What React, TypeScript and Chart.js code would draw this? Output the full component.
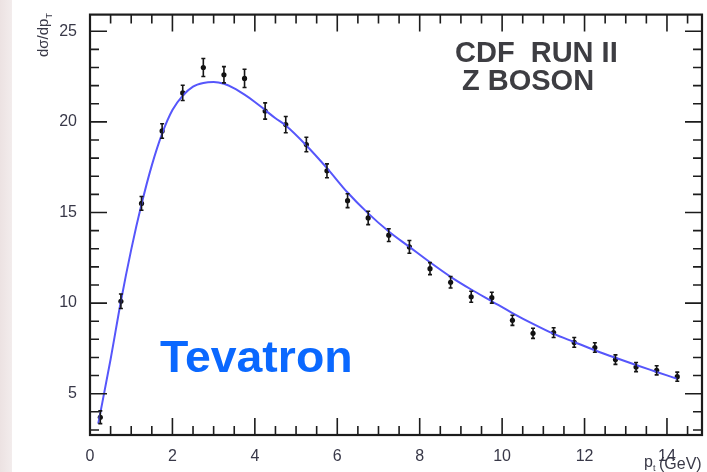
import React, { useEffect, useRef } from "react";
import { Chart, registerables } from "chart.js";

Chart.register(...registerables);

// ---- data ----
const binCenters = [
  0.25, 0.75, 1.25, 1.75, 2.25, 2.75, 3.25, 3.75, 4.25, 4.75, 5.25, 5.75, 6.25, 6.75, 7.25,
  7.75, 8.25, 8.75, 9.25, 9.75, 10.25, 10.75, 11.25, 11.75, 12.25, 12.75, 13.25, 13.75, 14.25,
];
const crossSection = [
  3.7, 10.1, 15.5, 19.5, 21.6, 23.0, 22.6, 22.4, 20.6, 19.85, 18.75, 17.3, 15.65, 14.7, 13.75,
  13.1, 11.9, 11.15, 10.35, 10.3, 9.05, 8.33, 8.37, 7.83, 7.55, 6.88, 6.47, 6.29, 5.94,
];
const crossSectionErr = [
  0.35, 0.4, 0.38, 0.4, 0.42, 0.5, 0.45, 0.5, 0.45, 0.45, 0.4, 0.38, 0.38, 0.37, 0.35,
  0.35, 0.33, 0.32, 0.3, 0.3, 0.28, 0.28, 0.27, 0.27, 0.26, 0.26, 0.25, 0.25, 0.25,
];
const fitX = [
  0.2, 0.5, 0.75, 1.0, 1.25, 1.5, 1.75, 2.0, 2.25, 2.5, 2.75, 3.0, 3.25, 3.5, 3.75, 4.0, 4.25,
  4.5, 4.75, 5.25, 5.75, 6.25, 6.75, 7.25, 7.75, 8.25, 8.75, 9.25, 9.75, 10.25, 10.75, 11.25,
  11.75, 12.25, 12.75, 13.25, 13.75, 14.25,
];
const fitY = [
  3.35, 6.9, 10.1, 12.95, 15.45, 17.6, 19.35, 20.65, 21.45, 21.95, 22.15, 22.2, 22.1, 21.85,
  21.5, 21.1, 20.65, 20.2, 19.8, 18.7, 17.45, 16.1, 14.95, 13.95, 13.1, 12.25, 11.45, 10.75,
  10.1, 9.45, 8.85, 8.3, 7.85, 7.4, 6.98, 6.58, 6.2, 5.82,
];

const xMajorTicks = [0, 2, 4, 6, 8, 10, 12, 14];
const xTickLabels = ["0", "2", "4", "6", "8", "10", "12", "14"];
const xMinorTicks = [
  0.5, 1, 1.5, 2.5, 3, 3.5, 4.5, 5, 5.5, 6.5, 7, 7.5, 8.5, 9, 9.5, 10.5, 11, 11.5, 12.5, 13,
  13.5, 14.5,
];
const yMajorTicks = [5, 10, 15, 20, 25];
const yTickLabels = ["5", "10", "15", "20", "25"];
const yMinorTicks = [3, 4, 6, 7, 8, 9, 11, 12, 13, 14, 16, 17, 18, 19, 21, 22, 23, 24];

const xRange = [0, 14.85];
const yRange = [2.72, 25.92];

const FONT = '"Liberation Sans", Arial, Helvetica, sans-serif';

const backgroundPlugin = {
  id: "bgPlugin",
  beforeDraw(chart: any) {
    const { ctx, width, height } = chart;
    ctx.save();
    ctx.fillStyle = "#ffffff";
    ctx.fillRect(0, 0, width, height);
    const g = ctx.createLinearGradient(0, 0, 13, 0);
    g.addColorStop(0, "#ece2e2");
    g.addColorStop(1, "#f3eded");
    ctx.fillStyle = g;
    ctx.fillRect(0, 0, 12, height);
    ctx.restore();
  },
};

const errorBarPlugin = {
  id: "errorBars",
  afterDatasetsDraw(chart: any) {
    const { ctx } = chart;
    const xs = chart.scales.x;
    const ys = chart.scales.y;
    ctx.save();
    ctx.strokeStyle = "#151515";
    ctx.lineWidth = 1.6;
    binCenters.forEach((xv, i) => {
      const px = xs.getPixelForValue(xv);
      const pTop = ys.getPixelForValue(crossSection[i] + crossSectionErr[i]);
      const pBot = ys.getPixelForValue(crossSection[i] - crossSectionErr[i]);
      ctx.beginPath();
      ctx.moveTo(px, pTop);
      ctx.lineTo(px, pBot);
      ctx.moveTo(px - 2, pTop);
      ctx.lineTo(px + 2, pTop);
      ctx.moveTo(px - 2, pBot);
      ctx.lineTo(px + 2, pBot);
      ctx.stroke();
    });
    ctx.restore();
  },
};

const framePlugin = {
  id: "frame",
  afterDraw(chart: any) {
    const { ctx, chartArea } = chart;
    const { left, right, top, bottom } = chartArea;
    const xs = chart.scales.x;
    const ys = chart.scales.y;
    const MAJ = 17;
    const MIN = 9;
    ctx.save();
    ctx.strokeStyle = "#1c1c1c";
    ctx.lineWidth = 1.6;
    ctx.beginPath();
    const drawX = (v: number, len: number) => {
      const px = xs.getPixelForValue(v);
      ctx.moveTo(px, bottom);
      ctx.lineTo(px, bottom - len);
      ctx.moveTo(px, top);
      ctx.lineTo(px, top + len);
    };
    const drawY = (v: number, len: number) => {
      const py = ys.getPixelForValue(v);
      ctx.moveTo(left, py);
      ctx.lineTo(left + len, py);
      ctx.moveTo(right, py);
      ctx.lineTo(right - len, py);
    };
    xMajorTicks.forEach((v) => drawX(v, MAJ));
    xMinorTicks.forEach((v) => drawX(v, MIN));
    yMajorTicks.forEach((v) => drawY(v, MAJ));
    yMinorTicks.forEach((v) => drawY(v, MIN));
    ctx.stroke();
    ctx.lineWidth = 2.2;
    ctx.strokeRect(left, top, right - left, bottom - top);
    ctx.restore();
  },
};

const textPlugin = {
  id: "texts",
  afterDraw(chart: any) {
    const { ctx } = chart;
    ctx.save();
    // CDF label
    ctx.fillStyle = "#3d3d42";
    ctx.font = `bold 29px ${FONT}`;
    ctx.textBaseline = "alphabetic";
    ctx.textAlign = "left";
    ctx.fillText("CDF  RUN II", 455, 62);
    ctx.fillText("Z BOSON", 462, 90);

    // Tevatron
    ctx.save();
    ctx.fillStyle = "#0a68ff";
    ctx.font = `bold 44px ${FONT}`;
    ctx.translate(160, 372);
    ctx.scale(1.055, 1);
    ctx.fillText("Tevatron", 0, 0);
    ctx.restore();

    // y axis title
    ctx.fillStyle = "#3a3a48";
    ctx.save();
    ctx.translate(48, 57);
    ctx.rotate(-Math.PI / 2);
    ctx.font = `15px ${FONT}`;
    ctx.fillText("dσ/dp", 0, 0);
    const w = ctx.measureText("dσ/dp").width;
    ctx.font = `9px ${FONT}`;
    ctx.fillText("T", w, 4);
    ctx.restore();

    // x axis title
    ctx.font = `16px ${FONT}`;
    ctx.fillText("p", 644, 467);
    ctx.font = `9px ${FONT}`;
    ctx.fillText("t", 653, 471);
    ctx.font = `16px ${FONT}`;
    ctx.fillText("(GeV)", 659, 469);
    ctx.restore();
  },
};

export default function App() {
  const canvasRef = useRef<HTMLCanvasElement | null>(null);

  useEffect(() => {
    document.body.style.margin = "0";
    const canvas = canvasRef.current;
    if (!canvas) return;
    const points = binCenters.map((x, i) => ({ x, y: crossSection[i] }));
    const curve = fitX.map((x, i) => ({ x, y: fitY[i] }));

    const chart = new Chart(canvas, {
      type: "scatter",
      data: {
        datasets: [
          {
            type: "line",
            data: curve,
            borderColor: "#5656fb",
            borderWidth: 2,
            pointRadius: 0,
            fill: false,
            cubicInterpolationMode: "monotone",
          } as any,
          {
            type: "scatter",
            data: points,
            pointRadius: 2.6,
            pointBackgroundColor: "#111111",
            pointBorderWidth: 0,
          } as any,
        ],
      },
      options: {
        animation: false,
        responsive: false,
        devicePixelRatio: 1,
        layout: { padding: { left: 0, right: 5, top: 8, bottom: 0 } },
        plugins: {
          legend: { display: false },
          tooltip: { enabled: false },
        },
        scales: {
          x: {
            type: "linear",
            min: xRange[0],
            max: xRange[1],
            grid: { display: false },
            border: { display: false },
            afterBuildTicks: (s: any) => {
              s.ticks = xMajorTicks.map((v) => ({ value: v }));
            },
            afterFit: (s: any) => {
              s.height = 37;
            },
            ticks: {
              autoSkip: false,
              maxRotation: 0,
              padding: 4,
              color: "#383848",
              font: { family: FONT, size: 16 },
              callback: (v: any) => {
                const i = xMajorTicks.indexOf(Number(v));
                return i >= 0 ? xTickLabels[i] : "";
              },
            },
          },
          y: {
            type: "linear",
            min: yRange[0],
            max: yRange[1],
            grid: { display: false },
            border: { display: false },
            afterBuildTicks: (s: any) => {
              s.ticks = yMajorTicks.map((v) => ({ value: v }));
            },
            afterFit: (s: any) => {
              s.width = 90;
            },
            ticks: {
              autoSkip: false,
              padding: 5,
              color: "#383848",
              font: { family: FONT, size: 16 },
              callback: (v: any) => {
                const i = yMajorTicks.indexOf(Number(v));
                return i >= 0 ? yTickLabels[i] : "";
              },
            },
          },
        },
      } as any,
      plugins: [backgroundPlugin, errorBarPlugin, framePlugin, textPlugin],
    });
    return () => chart.destroy();
  }, []);

  return (
    <div style={{ position: "fixed", left: 0, top: 0, width: 707, height: 472 }}>
      <canvas ref={canvasRef} width={707} height={472} style={{ width: 707, height: 472, display: "block" }} />
    </div>
  );
}
